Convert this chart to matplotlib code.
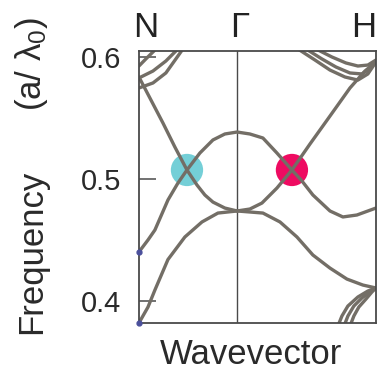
import matplotlib
matplotlib.use('Agg')
import matplotlib.pyplot as plt

plt.rcParams['font.family'] = ['Liberation Sans', 'DejaVu Sans']
plt.rcParams['mathtext.fontset'] = 'custom'
plt.rcParams['mathtext.rm'] = 'Liberation Sans'
plt.rcParams['mathtext.it'] = 'Liberation Sans:italic'

# high-symmetry points along the path (bcc: |N-G| = sqrt(2)/2, |G-H| = 1)
k_points = [0.0, 0.707, 1.707]
k_labels = ['N', 'Γ', 'H']

# bands, wavevector and frequency (a/lambda0)
band_a_k = [0.0, 0.065, 0.115, 0.209, 0.331, 0.454, 0.569, 0.707, 0.893, 1.016, 1.138, 1.253, 1.376, 1.498, 1.613, 1.707]
band_a_f = [0.382, 0.395, 0.409, 0.434, 0.4525, 0.4648, 0.4721, 0.4738, 0.4721, 0.4648, 0.4525, 0.4377, 0.427, 0.418, 0.4131, 0.4107]

band_b_k = [0.0, 0.065, 0.115, 0.209, 0.281, 0.346, 0.439, 0.533, 0.619, 0.707, 0.799, 0.893, 0.994, 1.102, 1.174, 1.253, 1.376, 1.469, 1.570, 1.707]
band_b_f = [0.4402, 0.45, 0.4582, 0.4828, 0.4967, 0.5074, 0.5213, 0.532, 0.5369, 0.5385, 0.5369, 0.5336, 0.5213, 0.5074, 0.4984, 0.4869, 0.4738, 0.4689, 0.4705, 0.4762]

band_c_k = [0.0, 0.079, 0.173, 0.259, 0.346, 0.418, 0.475, 0.533, 0.619, 0.707]
band_c_f = [0.5836, 0.5664, 0.5459, 0.5262, 0.5074, 0.4951, 0.4869, 0.4811, 0.4762, 0.4738]

band_d_k = [0.707, 0.799, 0.886, 0.994, 1.102, 1.232, 1.376, 1.520, 1.628, 1.707]
band_d_f = [0.4738, 0.4754, 0.4803, 0.4926, 0.5074, 0.5287, 0.5516, 0.5746, 0.5885, 0.5959]

# upper bands near N
l1_k = [0.0, 0.050, 0.108, 0.137]
l1_f = [0.5926, 0.5984, 0.6049, 0.609]
l2_k = [0.0, 0.101, 0.194, 0.266, 0.302]
l2_f = [0.5828, 0.5885, 0.5967, 0.6049, 0.6098]
l3_k = [0.0, 0.101, 0.194, 0.266, 0.317, 0.339]
l3_f = [0.5746, 0.5787, 0.5869, 0.5984, 0.6066, 0.6107]

# upper bands near H
t1_k = [1.145, 1.268, 1.376, 1.484, 1.577, 1.649, 1.707]
t1_f = [0.6066, 0.5975, 0.5893, 0.5836, 0.5811, 0.5861, 0.5959]
t2_k = [1.203, 1.318, 1.419, 1.520, 1.606, 1.664, 1.707]
t2_f = [0.6066, 0.5984, 0.5918, 0.5869, 0.5861, 0.5902, 0.5967]
t3_k = [1.275, 1.390, 1.491, 1.577, 1.649, 1.707]
t3_f = [0.6066, 0.600, 0.5951, 0.5926, 0.5934, 0.5975]

# lower bands near H
r1_k = [1.433, 1.462, 1.505, 1.577, 1.649, 1.707]
r1_f = [0.3795, 0.3877, 0.3959, 0.4033, 0.4082, 0.4107]
r2_k = [1.477, 1.505, 1.548, 1.606, 1.664, 1.707]
r2_f = [0.3795, 0.3877, 0.3959, 0.4025, 0.4074, 0.4107]
r3_k = [1.520, 1.548, 1.584, 1.635, 1.678, 1.707]
r3_f = [0.3795, 0.3877, 0.3951, 0.4016, 0.4074, 0.4107]

# Weyl-like crossings
cross_k = [0.346, 1.102]
cross_f = [0.5074, 0.5074]
cross_colors = ['#74cfd7', '#ee0b61']

# band edge markers at N
edge_k = [0.0, 0.0]
edge_f = [0.4402, 0.382]

C_BAND = '#736e66'
C_AXIS = '#4a4a4a'

fig = plt.figure(figsize=(3.87, 3.71), dpi=100, facecolor='white')
ax = fig.add_axes([0.359, 0.1294, 0.6124, 0.7331])

ax.scatter(cross_k, cross_f, s=540, c=cross_colors, linewidths=0, zorder=1)

bands = [(band_a_k, band_a_f), (band_b_k, band_b_f), (band_c_k, band_c_f), (band_d_k, band_d_f),
         (l1_k, l1_f), (l2_k, l2_f), (l3_k, l3_f),
         (t1_k, t1_f), (t2_k, t2_f), (t3_k, t3_f),
         (r1_k, r1_f), (r2_k, r2_f), (r3_k, r3_f)]
for k, f in bands:
    ax.plot(k, f, color=C_BAND, lw=2.4, solid_capstyle='round', solid_joinstyle='round', zorder=2)

ax.plot(edge_k, edge_f, 'o', ms=3.5, color='#4b509c', zorder=3, clip_on=False)

ax.axvline(k_points[1], color=C_AXIS, lw=1.0, zorder=1.5)

ax.set_xlim(k_points[0], k_points[-1])
ax.set_ylim(0.382, 0.6049)
ax.set_xticks([])
ax.set_yticks([0.4, 0.5, 0.6])
ax.set_yticklabels(['0.4', '0.5', '0.6'])
ax.tick_params(axis='y', direction='in', length=12, width=1.1, color=C_AXIS,
               labelsize=21, labelcolor='#2a2a2a', pad=13)
for s in ax.spines.values():
    s.set_color(C_AXIS)
    s.set_linewidth(1.3)

# path labels above the panel
label_x = [146, 240, 364]
for lab, px in zip(k_labels, label_x):
    fig.text(px / 387, 1 - 37 / 371, lab, ha='center', va='baseline', fontsize=25, color='#222222')

fig.text(32 / 387, 1 - 252 / 371, 'Frequency', rotation=90, ha='center', va='center',
         fontsize=25, color='#2a2a2a')
fig.text(32 / 387, 1 - 64 / 371, r'(a/ λ$_0$)', rotation=90, ha='center', va='center',
         fontsize=25, color='#2a2a2a')
fig.text(251 / 387, 1 - 354 / 371, 'Wavevector', ha='center', va='center',
         fontsize=25, color='#2a2a2a')

fig.savefig('out.png', dpi=100, facecolor='white')
